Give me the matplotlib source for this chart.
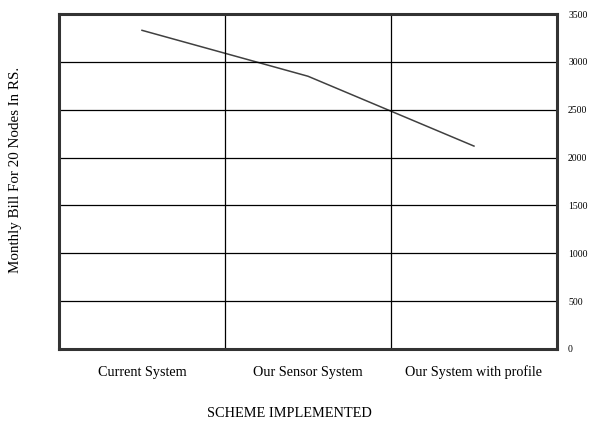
import matplotlib.pyplot as plt

plt.rcParams['font.family'] = ['Liberation Serif', 'DejaVu Serif']

# Data
schemes = ["Current System", "Our Sensor System", "Our System with profile"]
monthly_bill = [3330, 2850, 2120]
y_ticks = [0, 500, 1000, 1500, 2000, 2500, 3000, 3500]

fig = plt.figure(figsize=(5.9, 4.26), dpi=100)
ax = fig.add_axes([0.1, 0.181, 0.844, 0.786])

x = list(range(len(schemes)))
ax.plot(x, monthly_bill, color="#404040", linewidth=1.1)

ax.set_xlim(-0.5, 2.5)
ax.set_ylim(0, 3500)

# grid: horizontal at every tick, vertical between categories
ax.set_yticks(y_ticks)
ax.set_yticklabels([str(v) for v in y_ticks], fontsize=7)
ax.yaxis.tick_right()
for v in y_ticks[1:-1]:
    ax.axhline(v, color="black", linewidth=0.9)
for b in [0.5, 1.5]:
    ax.axvline(b, color="black", linewidth=0.9)

ax.set_xticks(x)
ax.set_xticklabels(schemes, fontsize=10.2)
ax.tick_params(axis="both", length=0)
ax.tick_params(axis="x", pad=12)
ax.tick_params(axis="y", pad=8)

for s in ax.spines.values():
    s.set_linewidth(2.2)
    s.set_color("#333333")

fig.text(0.49, 0.02, "SCHEME IMPLEMENTED", fontsize=10.4, ha="center")
fig.text(0.026, 0.6, "Monthly Bill For 20 Nodes In RS.", fontsize=10.8,
         rotation=90, va="center", ha="center")

fig.savefig("out.png", dpi=100)
